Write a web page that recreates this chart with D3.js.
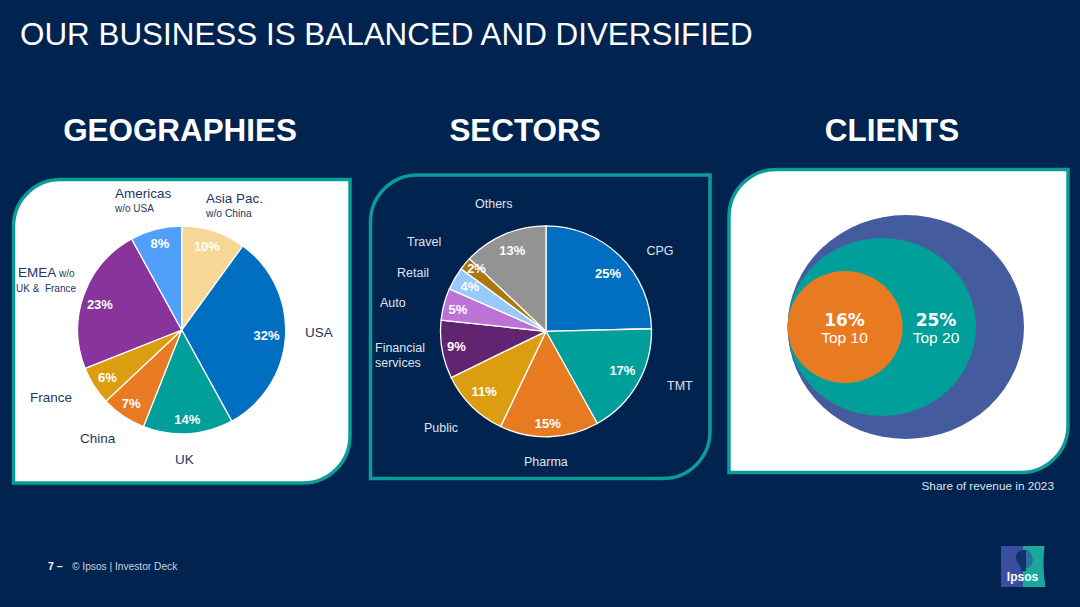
<!DOCTYPE html>
<html>
<head>
<meta charset="utf-8">
<script src="https://cdn.jsdelivr.net/npm/d3@7"></script>
<style>
  html, body { margin: 0; padding: 0; background: #00234f; }
  svg { display: block; font-family: "Liberation Sans", Arial, sans-serif; }
  text { white-space: pre; }
</style>
</head>
<body>
<svg id="chart" width="1080" height="607"></svg>
<script>
// Geographies, clockwise from 12 o'clock
var geoNames = ["Asia Pac.", "USA", "UK", "China", "France", "EMEA", "Americas"];
var geoValues = [10, 32, 14, 7, 6, 23, 8];
var geoColors = ["#f6d795", "#006fc1", "#009f9a", "#e87a22", "#dc9e10", "#88349c", "#4f9ffb"];

// Sectors, clockwise from 12 o'clock. Slice sizes, labels round them
var sectorNames = ["CPG", "TMT", "Pharma", "Public", "Financial services", "Auto", "Retail", "Travel", "Others"];
var sectorValues = [24.6, 17.3, 15.15, 10.7, 8.9, 4.9, 3.5, 2, 12.9];
var sectorColors = ["#006fc1", "#009f9a", "#e87a22", "#dc9e10", "#612471", "#bd73d6", "#99c9fb", "#ad770d", "#939393"];

// Clients, share of revenue
var clientTiers = ["All", "Top 20", "Top 10"];
var clientColors = ["#445b9e", "#009f9a", "#e87a22"];
var clientLabels = [null, "25%", "16%"];

var navy = "#00234f", teal = "#0b9c98", inkDark = "#1f3564", inkLight = "#dfe5ee";

var svg = d3.select("#chart");

svg.append("rect").attr("width", 1080).attr("height", 607).attr("fill", navy);

// panel with two rounded corners (top left, bottom right)
var panel = function(x0, y0, x1, y1, fill) {
  var r = 47, p = d3.path();
  p.moveTo(x0 + r, y0);
  p.lineTo(x1, y0);
  p.lineTo(x1, y1 - r);
  p.arcTo(x1, y1, x1 - r, y1, r);
  p.lineTo(x0, y1);
  p.lineTo(x0, y0 + r);
  p.arcTo(x0, y0, x0 + r, y0, r);
  p.closePath();
  svg.append("path")
    .attr("d", p.toString())
    .attr("fill", fill)
    .attr("stroke", teal)
    .attr("stroke-width", 3.5);
};

var addText = function(x, y, str, size, color, opts) {
  opts = opts || {};
  return svg.append("text")
    .attr("x", x)
    .attr("y", y)
    .attr("font-size", size)
    .attr("fill", color)
    .attr("font-family", opts.family || null)
    .attr("font-weight", opts.weight || "normal")
    .attr("text-anchor", opts.anchor || "start")
    .text(str);
};

// pie drawn from the values; slice labels sit on a fixed radius
var pieChart = function(cx, cy, r, values, colors, nudges) {
  var arcs = d3.pie().sort(null).value(function(d) { return d; })(values);
  var arc = d3.arc().innerRadius(0).outerRadius(r);
  var labelArc = d3.arc().innerRadius(88).outerRadius(88);

  var g = svg.append("g").attr("transform", "translate(" + cx + "," + cy + ")");

  g.selectAll("path")
    .data(arcs)
    .enter()
    .append("path")
    .attr("d", arc)
    .attr("fill", function(d, i) { return colors[i]; })
    .attr("stroke", "#fff")
    .attr("stroke-width", 1.3);

  g.selectAll("text")
    .data(arcs)
    .enter()
    .append("text")
    .attr("transform", function(d, i) {
      var c = labelArc.centroid(d);
      return "translate(" + (c[0] + nudges[i][0]) + "," + (c[1] + nudges[i][1]) + ")";
    })
    .attr("text-anchor", "middle")
    .attr("dy", "0.35em")
    .attr("font-size", 13)
    .attr("font-weight", "bold")
    .attr("fill", "#fff")
    .text(function(d) { return Math.round(d.value) + "%"; });
};

// header
addText(20, 45, "OUR BUSINESS IS BALANCED AND DIVERSIFIED", 31.4, "#fff");
addText(180, 141, "GEOGRAPHIES", 31.4, "#fff", { weight: "bold", anchor: "middle" });
addText(525, 141, "SECTORS", 31.4, "#fff", { weight: "bold", anchor: "middle" });
addText(892, 141, "CLIENTS", 31.4, "#fff", { weight: "bold", anchor: "middle" });

// panels
panel(13.5, 179.5, 350, 483, "#fff");
panel(370.5, 175, 710, 478.5, navy);
panel(729, 169.5, 1068, 472.5, "#fff");

// geographies
pieChart(181.7, 330, 104, geoValues, geoColors,
  [[-2, 0], [-3, 0], [0, 2], [-1, 1], [0, 0], [1, 4], [0, -1]]);

addText(115, 198, geoNames[6], 13.5, inkDark);
addText(115, 212, "w/o USA", 10, inkDark);
addText(206, 203, geoNames[0], 13.5, inkDark);
addText(206, 217, "w/o China", 10.3, inkDark);
addText(305, 337, geoNames[1], 13.5, inkDark);
addText(175, 464, geoNames[2], 13.5, inkDark);
addText(80, 443, geoNames[3], 13.5, inkDark);
addText(30, 402, geoNames[4], 13.5, inkDark);
var emea = addText(18, 277, geoNames[5], 13.5, inkDark);
emea.append("tspan").attr("font-size", 10).text(" w/o");
addText(16, 292, "UK &  France", 10, inkDark);

// sectors
pieChart(546, 331.3, 105.5, sectorValues, sectorColors,
  [[0.6, 5], [0, -5], [-1, 4], [0, -2], [-3, 0], [-3, 1], [0, -1], [-2, -6], [1, 0]]);

addText(646.5, 255, sectorNames[0], 12.5, inkLight);
addText(667, 390, sectorNames[1], 12.5, inkLight);
addText(524, 466, sectorNames[2], 12.5, inkLight);
addText(424, 432, sectorNames[3], 12.5, inkLight);
addText(375, 352, "Financial", 12.5, inkLight);
addText(375, 367, "services", 12.5, inkLight);
addText(380, 307, sectorNames[5], 12.5, inkLight);
addText(397, 277, sectorNames[6], 12.5, inkLight);
addText(407, 246, sectorNames[7], 12.5, inkLight);
addText(475, 208, sectorNames[8], 12.5, inkLight);

// clients: nested ellipses, all touching at the left edge
var rxScale = d3.scaleOrdinal().domain(clientTiers).range([118.2, 94.2, 57.5]);
var ryScale = d3.scaleOrdinal().domain(clientTiers).range([112, 89, 56]);
var leftEdge = 787.6, midY = 327;

svg.selectAll("ellipse.client")
  .data(clientTiers)
  .enter()
  .append("ellipse")
  .attr("class", "client")
  .attr("cx", function(d) { return leftEdge + rxScale(d); })
  .attr("cy", midY)
  .attr("rx", function(d) { return rxScale(d); })
  .attr("ry", function(d) { return ryScale(d); })
  .attr("fill", function(d, i) { return clientColors[i]; });

var wideBold = { weight: "bold", anchor: "middle", family: "DejaVu Sans" };
addText(844.5, 326, clientLabels[2], 17, "#fff", wideBold);
addText(844.5, 343, clientTiers[2], 15.5, "#fff", { anchor: "middle" });
addText(936, 326, clientLabels[1], 17, "#fff", wideBold);
addText(936, 343, clientTiers[1], 15.5, "#fff", { anchor: "middle" });

addText(1054, 489.5, "Share of revenue in 2023", 11.8, inkLight, { anchor: "end" });

// footer
addText(48, 570, "7 \u2013", 10.5, "#fff", { weight: "bold" });
addText(72, 570, "\u00a9 Ipsos | Investor Deck", 10.2, "#c9d2df");

// logo
svg.append("path").attr("d", "M1001 546H1023V587H1001Z").attr("fill", "#3a4ea0");
svg.append("path").attr("d", "M1023 546H1044.5Q1042 566 1045.5 587H1023Z").attr("fill", "#1aa89c");
svg.append("path")
  .attr("d", "M1024 550C1016 550 1014 558 1018 563C1021 566 1021 568 1021 571H1026V550Z")
  .attr("fill", "#10336e");
svg.append("path")
  .attr("d", "M1026 550C1030 551 1032 554 1032 557L1033.5 560L1032 562C1032 566 1030 568 1026 568Z")
  .attr("fill", "#2a6f98");
addText(1022.5, 581, "Ipsos", 12, "#fff", { weight: "bold", anchor: "middle" });
</script>
</body>
</html>
